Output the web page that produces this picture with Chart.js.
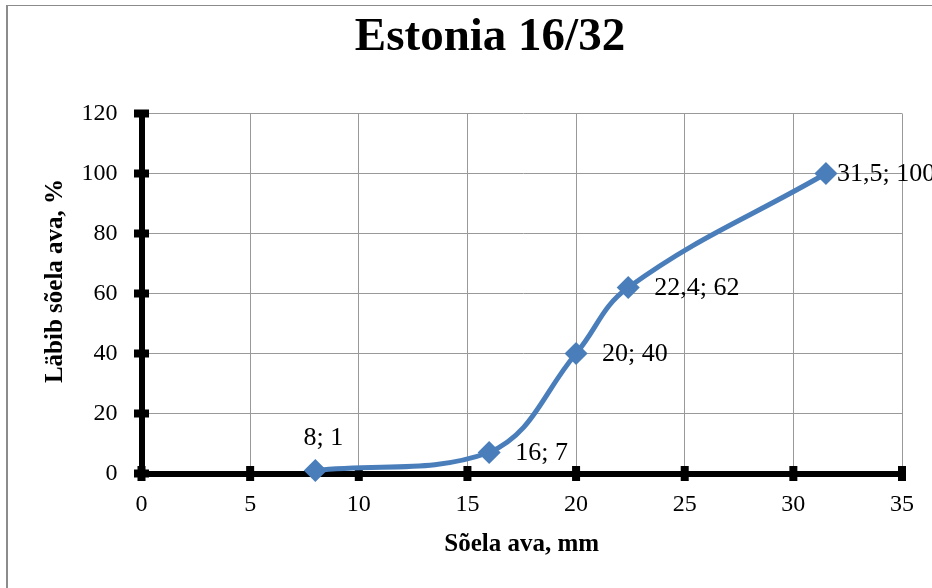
<!DOCTYPE html>
<html>
<head>
<meta charset="utf-8">
<script src="https://cdn.jsdelivr.net/npm/chart.js@4/dist/chart.umd.min.js"></script>
<style>
  html, body { margin: 0; padding: 0; background: #fff; }
  #wrap { width: 932px; height: 588px; position: relative; }
</style>
</head>
<body>
<div id="wrap"><canvas id="chart" width="932" height="588"></canvas></div>
<script>
// data
let sieveSizes = [8, 16, 20, 22.4, 31.5];
let passing = [1, 7, 40, 62, 100];
let pointLabels = ["8; 1", "16; 7", "20; 40", "22,4; 62", "31,5; 100"];
let xTicks = [0, 5, 10, 15, 20, 25, 30, 35];
let yTicks = [0, 20, 40, 60, 80, 100, 120];

const serif = "'Liberation Serif', 'Times New Roman', serif";
const lineBlue = "#4a7ebb";

// frame around the whole picture
const framePlugin = {
    id: "frame",
    beforeDraw(chart) {
        const ctx = chart.ctx;
        ctx.save();
        ctx.fillStyle = "#fff";
        ctx.fillRect(0, 0, chart.width, chart.height);
        ctx.fillStyle = "#8c8c8c";
        ctx.fillRect(6, 5, 2, chart.height - 5);
        ctx.fillRect(6, 5, chart.width - 6, 1);
        ctx.restore();
    }
};

// square tick marks on the axes + y axis title
const axisMarks = {
    id: "axisMarks",
    beforeDatasetsDraw(chart) {
        const ctx = chart.ctx;
        const xs = chart.scales.x, ys = chart.scales.y;
        const x0 = xs.getPixelForValue(0);
        const y0 = ys.getPixelForValue(0);
        ctx.save();
        ctx.fillStyle = "#000";
        yTicks.forEach(v => {
            let y = ys.getPixelForValue(v);
            ctx.fillRect(x0 - 7.5, y - 4, 15, 8);
        });
        xTicks.forEach(v => {
            let x = xs.getPixelForValue(v);
            ctx.fillRect(x - 4, y0 - 7.5, 8, 15);
        });

        ctx.translate(56, 281);
        ctx.rotate(-Math.PI / 2);
        ctx.font = "bold 25px " + serif;
        ctx.textAlign = "center";
        ctx.textBaseline = "middle";
        ctx.fillText("Läbib sõela ava, %", 0, 0);
        ctx.restore();
    }
};

// "x; y" labels beside the points
const labelPlugin = {
    id: "pointText",
    afterDatasetsDraw(chart) {
        const ctx = chart.ctx;
        const meta = chart.getDatasetMeta(0);
        ctx.save();
        ctx.font = "26px " + serif;
        ctx.fillStyle = "#000";
        ctx.textBaseline = "middle";
        meta.data.forEach((pt, i) => {
            if (i === 0) {
                ctx.textAlign = "center";
                ctx.fillText(pointLabels[i], pt.x + 8, pt.y - 32);
            } else {
                ctx.textAlign = "left";
                let dx = i === pointLabels.length - 1 ? 11 : 26;
                ctx.fillText(pointLabels[i], pt.x + dx, pt.y + 1);
            }
        });
        ctx.restore();
    }
};

new Chart(document.getElementById("chart"), {
    type: "scatter",
    data: {
        datasets: [{
            data: sieveSizes.map((x, i) => ({ x: x, y: passing[i] })),
            showLine: true,
            borderColor: lineBlue,
            backgroundColor: lineBlue,
            borderWidth: 5,
            tension: 0.4,
            pointStyle: "rectRot",
            pointRadius: 8,
            pointHoverRadius: 8,
            clip: false
        }]
    },
    options: {
        responsive: false,
        animation: false,
        events: [],
        layout: { padding: { left: 78, right: 30, top: 0, bottom: 0 } },
        plugins: {
            legend: { display: false },
            tooltip: { enabled: false },
            title: {
                display: true,
                text: "Estonia 16/32",
                color: "#000",
                font: { family: serif, size: 47, weight: "bold", lineHeight: 1 },
                padding: { top: 14.5, bottom: 52 }
            }
        },
        scales: {
            x: {
                type: "linear",
                min: 0,
                max: 35,
                afterFit(scale) { scale.height = 114.5; },
                afterBuildTicks(scale) { scale.ticks = xTicks.map(v => ({ value: v })); },
                ticks: {
                    color: "#000",
                    padding: 17,
                    font: { family: serif, size: 24 }
                },
                grid: { color: "#999", lineWidth: 1, drawTicks: false },
                border: { color: "#000", width: 6 },
                title: {
                    display: true,
                    text: "Sõela ava, mm",
                    color: "#000",
                    font: { family: serif, size: 25, weight: "bold", lineHeight: 1 },
                    padding: { top: 0, bottom: 30.5 }
                }
            },
            y: {
                type: "linear",
                min: 0,
                max: 120,
                afterFit(scale) { scale.width = 63.5; },
                afterBuildTicks(scale) { scale.ticks = yTicks.map(v => ({ value: v })); },
                ticks: {
                    color: "#000",
                    padding: 24,
                    font: { family: serif, size: 24 }
                },
                grid: { color: "#999", lineWidth: 1, drawTicks: false },
                border: { color: "#000", width: 6 }
            }
        }
    },
    plugins: [framePlugin, axisMarks, labelPlugin]
});
</script>
</body>
</html>
